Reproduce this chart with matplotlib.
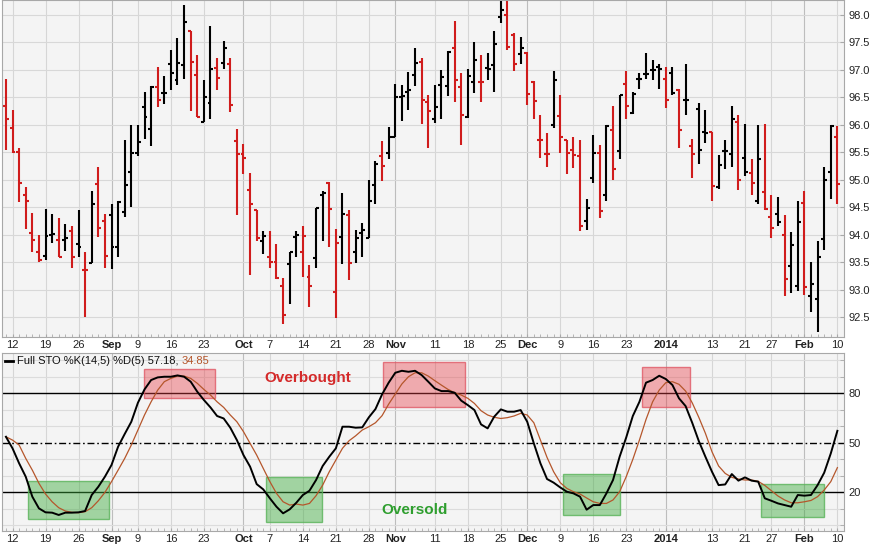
import matplotlib
matplotlib.use("Agg")
import matplotlib.pyplot as plt
from matplotlib.patches import Rectangle
import numpy as np
import pandas as pd

plt.rcParams["font.family"] = ["Liberation Sans", "DejaVu Sans"]

# trading days shown (Aug 9 2013 .. Feb 10 2014)
holidays = ["2013-09-02", "2013-11-28", "2013-12-25", "2014-01-01", "2014-01-20"]
dates = pd.bdate_range("2013-08-09", "2014-02-10")
dates = dates[~dates.isin(pd.to_datetime(holidays))]

opens = [96.34, 95.94, 95.51, 94.73, 94.03, 93.68, 93.62, 93.99, 93.91, 93.91,
         94.06, 93.83, 93.35, 93.48, 94.92, 94.25, 94.35, 93.77, 94.41, 95.14,
         95.49, 96.32, 95.93, 96.69, 96.58, 97.11, 96.81, 97.09, 97.70, 96.90,
         96.05, 96.39, 97.03, 97.12, 97.10, 95.71, 95.46, 94.82, 94.44, 93.89,
         93.59, 93.51, 93.06, 93.47, 93.95, 93.68, 93.23, 93.57, 94.73, 94.94,
         92.95, 93.95, 94.35, 93.68, 94.03, 93.94, 94.90, 95.43, 95.48, 95.78,
         96.50, 96.60, 96.91, 97.15, 96.42, 96.10, 96.72, 96.70, 97.39, 96.68,
         96.14, 96.78, 96.78, 97.03, 97.09, 97.96, 98.00, 97.64, 97.29, 97.31,
         96.78, 95.73, 95.46, 95.99, 96.16, 95.72, 95.54, 95.43, 94.25, 95.03,
         95.48, 94.73, 95.91, 95.52, 96.75, 96.21, 96.83, 96.92, 97.00, 97.05,
         96.83, 96.94, 96.64, 96.45, 95.61, 96.28, 95.87, 95.87, 94.87, 95.52,
         95.46, 96.05, 95.40, 95.12, 94.62, 94.78, 94.32, 94.37, 93.99, 93.42,
         93.07, 94.58, 92.89, 92.82, 93.92, 95.14, 95.78]
highs = [96.84, 96.27, 95.57, 94.86, 94.40, 94.00, 94.47, 94.38, 94.31, 94.19,
         94.15, 94.44, 93.68, 94.79, 95.24, 94.38, 94.55, 94.62, 95.72, 96.00,
         96.00, 96.59, 96.70, 97.06, 96.89, 97.37, 97.59, 98.18, 97.70, 97.27,
         96.81, 97.80, 97.21, 97.53, 97.21, 95.93, 95.65, 95.12, 94.45, 94.06,
         94.06, 93.83, 93.21, 93.68, 94.06, 94.15, 93.45, 94.49, 94.79, 94.95,
         94.11, 94.76, 94.45, 94.08, 94.21, 94.99, 95.35, 95.70, 95.96, 96.74,
         96.73, 96.97, 97.39, 97.21, 96.54, 96.72, 97.00, 97.35, 97.89, 96.95,
         97.01, 97.50, 97.27, 97.31, 97.70, 98.30, 98.30, 97.67, 97.60, 97.33,
         96.80, 96.18, 95.86, 96.98, 96.54, 95.72, 95.78, 95.73, 94.65, 95.82,
         95.63, 95.99, 96.34, 96.55, 96.98, 96.60, 96.95, 97.30, 97.18, 97.10,
         97.06, 97.06, 96.66, 97.10, 95.75, 96.39, 96.27, 95.87, 95.45, 95.72,
         96.34, 96.18, 96.01, 95.37, 95.99, 96.01, 94.73, 94.68, 94.35, 94.05,
         94.61, 94.79, 93.50, 93.88, 95.24, 95.99, 95.97]
lows = [95.54, 95.48, 94.59, 94.11, 93.68, 93.50, 93.54, 93.85, 93.59, 93.71,
        93.39, 93.59, 92.50, 93.48, 93.95, 93.39, 93.38, 93.59, 94.33, 94.50,
        95.44, 95.75, 95.62, 96.32, 96.38, 96.63, 96.72, 96.84, 96.25, 96.14,
        96.05, 96.10, 96.64, 97.01, 96.24, 94.36, 95.11, 93.27, 93.88, 93.65,
        93.39, 93.19, 92.37, 92.74, 93.59, 93.23, 92.68, 93.39, 93.89, 93.77,
        92.48, 93.47, 93.18, 93.48, 93.60, 93.94, 94.55, 94.98, 95.37, 95.78,
        96.07, 96.27, 96.70, 96.02, 95.57, 96.04, 96.10, 96.53, 96.42, 95.64,
        96.13, 96.58, 96.42, 96.81, 96.60, 97.85, 97.36, 96.98, 97.10, 96.37,
        96.11, 95.40, 95.23, 95.95, 95.49, 95.11, 95.22, 94.06, 94.09, 94.94,
        94.30, 94.61, 94.99, 95.38, 96.10, 96.19, 96.66, 96.83, 96.81, 96.66,
        96.30, 96.54, 95.57, 96.18, 95.04, 95.29, 95.67, 94.62, 94.84, 95.20,
        95.24, 94.82, 95.06, 94.73, 94.55, 94.44, 93.94, 94.15, 92.88, 92.93,
        92.98, 92.90, 92.59, 92.22, 93.72, 94.65, 94.56]
closes = [96.10, 95.51, 94.94, 94.61, 93.91, 93.53, 93.97, 94.02, 93.60, 93.94,
          93.60, 93.78, 93.35, 94.56, 94.12, 93.62, 93.77, 94.59, 94.91, 95.49,
          95.69, 96.14, 96.69, 96.45, 96.58, 96.95, 97.13, 97.88, 97.15, 96.14,
          96.51, 97.01, 96.86, 97.39, 96.36, 95.46, 95.40, 94.56, 93.94, 93.97,
          93.51, 93.21, 92.53, 93.68, 93.99, 93.97, 93.06, 94.49, 94.76, 94.46,
          93.85, 94.38, 93.48, 93.94, 94.08, 94.61, 95.28, 95.25, 95.78, 96.50,
          96.52, 96.64, 97.12, 96.46, 96.25, 96.33, 96.87, 97.33, 96.81, 96.18,
          96.89, 97.18, 96.78, 97.01, 97.48, 98.09, 97.42, 97.11, 97.39, 96.56,
          96.44, 95.73, 95.46, 96.81, 95.78, 95.49, 95.45, 94.15, 94.49, 95.48,
          94.43, 95.97, 95.20, 96.54, 96.34, 96.56, 96.84, 96.93, 97.00, 97.02,
          96.46, 96.58, 95.91, 96.45, 95.46, 95.54, 95.85, 94.88, 95.26, 95.52,
          96.11, 94.99, 95.14, 94.94, 95.37, 94.47, 94.12, 94.23, 93.19, 93.82,
          94.23, 93.05, 93.10, 93.60, 94.99, 95.97, 94.93]

pct_k = [53.6, 46.6, 37.5, 29.4, 17.3, 10.2, 7.8, 7.6, 6.2, 7.6,
         7.6, 7.8, 8.6, 18.3, 23.3, 29.4, 36.5, 47.6, 55.3, 62.7,
         74.2, 82.3, 88.0, 89.6, 90.0, 90.0, 90.8, 90.0, 87.0, 80.9,
         75.9, 71.4, 66.2, 64.7, 59.1, 51.6, 42.5, 35.5, 24.9, 21.7,
         16.3, 11.2, 7.2, 9.6, 13.6, 18.3, 20.9, 27.4, 35.9, 41.5,
         46.6, 59.7, 59.7, 59.1, 59.3, 65.4, 70.4, 79.3, 86.4, 92.4,
         93.6, 93.0, 93.6, 91.0, 87.0, 82.9, 81.3, 81.3, 80.3, 75.5,
         72.8, 69.8, 61.1, 58.7, 65.8, 70.2, 68.8, 68.8, 69.8, 62.7,
         49.6, 37.5, 28.0, 25.8, 22.9, 20.3, 19.3, 17.3, 9.4, 12.2,
         12.2, 19.3, 27.4, 41.5, 53.2, 66.2, 74.8, 86.4, 88.0, 90.6,
         88.6, 85.0, 76.9, 72.2, 62.1, 51.0, 41.5, 32.4, 24.3, 24.7,
         31.0, 27.0, 29.0, 27.0, 26.4, 16.3, 14.8, 13.2, 12.2, 11.2,
         18.3, 17.9, 18.3, 24.3, 31.8, 43.5, 57.2]
pct_d = [53.6, 51.6, 48.6, 40.5, 33.4, 25.4, 18.9, 14.2, 10.6, 8.6,
         7.8, 7.6, 8.2, 10.6, 14.8, 19.9, 26.4, 33.4, 40.5, 48.6,
         57.7, 66.8, 74.8, 81.9, 87.0, 89.0, 90.4, 90.4, 89.0, 86.0,
         82.3, 78.9, 74.8, 71.4, 66.8, 62.7, 56.7, 49.6, 42.5, 34.4,
         26.4, 19.3, 14.2, 12.2, 12.8, 12.2, 13.2, 17.9, 24.3, 32.4,
         39.5, 46.6, 51.2, 54.2, 57.7, 59.7, 62.1, 66.4, 73.4, 79.5,
         85.6, 90.0, 92.4, 92.4, 90.4, 87.6, 84.9, 82.3, 80.3, 78.9,
         76.9, 73.8, 69.4, 66.8, 65.4, 64.7, 65.2, 66.2, 67.8, 66.8,
         62.1, 51.6, 41.1, 32.4, 25.8, 22.3, 20.3, 18.9, 16.5, 14.2,
         13.2, 13.2, 15.3, 20.3, 29.4, 39.9, 51.6, 64.1, 74.8, 81.9,
         86.4, 87.0, 85.4, 81.3, 74.2, 65.4, 55.7, 44.5, 35.9, 31.4,
         29.0, 28.0, 27.4, 27.4, 26.6, 24.1, 20.9, 17.7, 15.3, 13.6,
         13.6, 14.2, 15.0, 17.3, 21.3, 26.4, 34.9]

tick_dates = ["2013-08-12", "2013-08-19", "2013-08-26", "2013-09-03", "2013-09-09",
              "2013-09-16", "2013-09-23", "2013-10-01", "2013-10-07", "2013-10-14",
              "2013-10-21", "2013-10-28", "2013-11-01", "2013-11-11", "2013-11-18",
              "2013-11-25", "2013-12-02", "2013-12-09", "2013-12-16", "2013-12-23",
              "2014-01-02", "2014-01-13", "2014-01-21", "2014-01-27", "2014-02-03",
              "2014-02-10"]
tick_labels = ["12", "19", "26", "Sep", "9", "16", "23", "Oct", "7", "14", "21", "28",
               "Nov", "11", "18", "25", "Dec", "9", "16", "23", "2014", "13", "21",
               "27", "Feb", "10"]
month_labels = {"Sep", "Oct", "Nov", "Dec", "2014", "Feb"}

# highlighted zones on the oscillator (bar index from, to, value from, to)
overbought_zones = [(20.85, 31.7, 77.0, 94.7), (57.1, 69.5, 71.5, 98.8), (96.4, 103.6, 71.9, 95.8)]
oversold_zones = [(3.4, 15.55, 3.8, 27.0), (39.4, 47.9, 1.8, 29.1),
                  (84.4, 93.0, 6.2, 30.9), (114.5, 124.0, 4.8, 25.0)]

RED = "#d01c1c"
x = np.arange(len(dates))
o, h, l, c = (np.array(v) for v in (opens, highs, lows, closes))
prev = np.r_[o[0], c[:-1]]
colors = np.where(c > prev, "black", RED)
tick_pos = dates.get_indexer(pd.to_datetime(tick_dates))

fig = plt.figure(figsize=(8.74, 5.47), dpi=100)
ax1 = fig.add_axes([0.00263, 0.3839, 0.9634, 0.6161])
ax2 = fig.add_axes([0.00263, 0.0293, 0.9634, 0.3254])

for ax in (ax1, ax2):
    ax.set_facecolor("#f4f4f4")
    ax.set_xlim(-0.55, len(dates) + 0.05)
    ax.set_xticks(tick_pos)
    ax.set_xticklabels(tick_labels)
    ax.set_xticks(x, minor=True)
    for lab in ax.get_xticklabels():
        if lab.get_text() in month_labels:
            lab.set_fontweight("bold")
    ax.tick_params(axis="x", which="both", direction="in", length=2, color="#aaaaaa",
                   labelcolor="#222222", labelsize=8, pad=2)
    ax.yaxis.tick_right()
    ax.tick_params(axis="y", which="both", direction="in", length=3, color="#aaaaaa",
                   labelcolor="#222222", labelsize=8, pad=3)
    ax.grid(axis="x", which="major", color="#d6d6d6", lw=0.8)
    for gl, lab in zip(ax.get_xgridlines(), tick_labels):
        if lab in month_labels:
            gl.set_color("#bdbdbd")
    for sp in ax.spines.values():
        sp.set_color("#a8a8a8")
    ax.set_axisbelow(True)

# price bars
ax1.vlines(x, l, h, colors=colors, lw=1.5)
ax1.hlines(o, x - 0.45, x, colors=colors, lw=1.5)
ax1.hlines(c, x, x + 0.45, colors=colors, lw=1.5)
ax1.set_ylim(92.136, 98.273)
ax1.set_yticks(np.arange(92.5, 98.01, 0.5))
ax1.set_yticklabels([f"{v:.1f}" for v in np.arange(92.5, 98.01, 0.5)])
ax1.grid(axis="y", color="#d8d8d8", lw=0.8)

# stochastics
ax2.set_ylim(-3.5, 104.4)
ax2.set_yticks([20, 50, 80])
ax2.set_yticks(np.arange(0, 101, 10), minor=True)
ax2.grid(axis="y", which="minor", color="#dcdcdc", lw=0.8)
ax2.axhline(80, color="black", lw=1)
ax2.axhline(20, color="black", lw=1)
ax2.axhline(50, color="black", lw=1, linestyle=(0, (5, 2, 1.2, 2)))

for x0, x1, y0, y1 in overbought_zones:
    ax2.add_patch(Rectangle((x0, y0), x1 - x0, y1 - y0, facecolor=(0.91, 0.24, 0.27, 0.4),
                            edgecolor=(0.88, 0.35, 0.4, 0.8), lw=1, zorder=2))
for x0, x1, y0, y1 in oversold_zones:
    ax2.add_patch(Rectangle((x0, y0), x1 - x0, y1 - y0, facecolor=(0.24, 0.67, 0.24, 0.45),
                            edgecolor=(0.35, 0.7, 0.35, 0.8), lw=1, zorder=2))

ax2.plot(x, pct_d, color="#b5562b", lw=0.9, zorder=3)
ax2.plot(x, pct_k, color="black", lw=1.4, zorder=4)

ax2.text(45.8, 89.3, "Overbought", color="#d42a2a", fontsize=11, fontweight="bold",
         ha="center", va="center")
ax2.text(61.9, 9.3, "Oversold", color="#2e9e2e", fontsize=11, fontweight="bold",
         ha="center", va="center")

# legend line
ax2.plot([0.0035, 0.0125], [0.955, 0.955], transform=ax2.transAxes, color="black", lw=2,
         clip_on=False)
t = ax2.text(0.0175, 0.955, "Full STO %K(14,5) %D(5) 57.18, ", transform=ax2.transAxes,
             fontsize=8, va="center", ha="left", color="#111111")
ax2.annotate("34.85", xy=(1, 0.5), xycoords=t, va="center", ha="left", fontsize=8,
             color="#b5562b")

fig.savefig("out.png", dpi=100, facecolor="white")
